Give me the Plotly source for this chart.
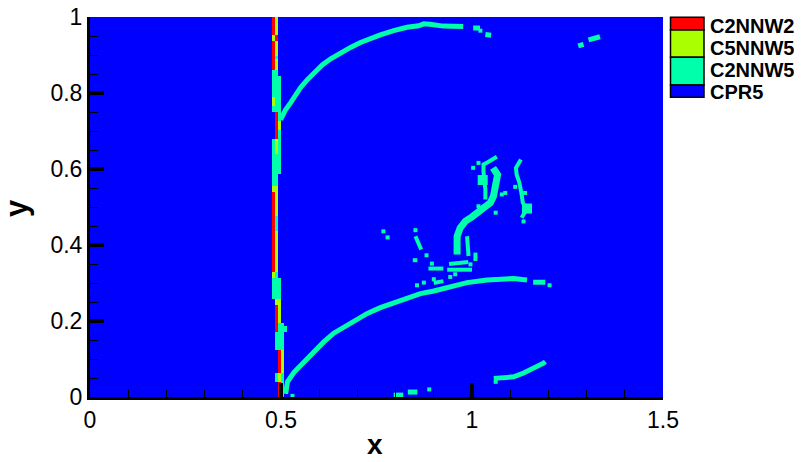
import plotly.graph_objects as go

# ---------------- data ----------------
CATEGORIES = ["CPR5", "C2NNW5", "C5NNW5", "C2NNW2"]          # codes 0..3
COLORS = ["#0000FF", "#00FFAA", "#AAFF00", "#FF0000"]
LEGEND_ORDER = ["C2NNW2", "C5NNW5", "C2NNW5", "CPR5"]

NX, NY = 192, 128           # grid cells (dx = dy = 1/128)

# vertical strip near x~0.48: per column (row-from-top start, end, code)
STRIP_COL_61 = [(0, 6, 3), (6, 8, 2), (8, 18, 3), (18, 27, 1), (27, 30, 2), (30, 32, 1),
                (41, 57, 1), (57, 59, 2), (59, 86, 3), (86, 88, 2), (88, 95, 1)]
STRIP_COL_62 = [(0, 6, 2), (6, 8, 3), (8, 13, 2), (13, 14, 1), (14, 18, 2), (18, 32, 1),
                (32, 41, 3), (41, 46, 2), (46, 57, 1), (57, 67, 2), (67, 72, 1), (72, 86, 2),
                (86, 95, 1), (95, 97, 2), (97, 106, 3), (106, 112, 1), (120, 123, 1)]
STRIP_COL_63 = [(20, 35, 1), (35, 38, 2), (38, 53, 1), (88, 95, 1), (95, 103, 2),
                (103, 112, 1), (112, 120, 3), (120, 123, 2), (123, 128, 3)]
STRIP_COL_64 = [(103, 112, 1), (112, 120, 2), (120, 128, 1)]
STRIP_COL_65 = [(104, 106, 1)]
STRIP = {61: STRIP_COL_61, 62: STRIP_COL_62, 63: STRIP_COL_63, 64: STRIP_COL_64, 65: STRIP_COL_65}

# cyan (C2NNW5) curves
UPPER_ARC_X = [0.499, 0.512, 0.525, 0.538, 0.551, 0.569, 0.586, 0.608, 0.630, 0.656, 0.682,
               0.708, 0.734, 0.760, 0.795, 0.830, 0.860, 0.874, 0.890, 0.925, 0.977,
               None, 1.003, 1.021, None, 1.035, 1.050, None, 1.278, 1.292, None, 1.305, 1.335]
UPPER_ARC_Y = [0.730, 0.756, 0.774, 0.795, 0.814, 0.835, 0.853, 0.874, 0.890, 0.906, 0.920,
               0.933, 0.944, 0.953, 0.964, 0.973, 0.977, 0.982, 0.981, 0.976, 0.975,
               None, 0.971, 0.971, None, 0.954, 0.952, None, 0.924, 0.928, None, 0.940, 0.948]

LOWER_ARC_X = [0.512, 0.517, 0.534, 0.551, 0.569, 0.591, 0.612, 0.638, 0.665, 0.691, 0.726,
               0.760, 0.795, 0.830, 0.865, 0.900, 0.943, 0.987, 1.039, 1.109, 1.144,
               None, 1.160, 1.192, None, 1.057, 1.109, 1.135, 1.161, 1.187, 1.192,
               None, 0.795, 0.820, None, 0.832, 0.857]
LOWER_ARC_Y = [0.008, 0.040, 0.065, 0.082, 0.102, 0.126, 0.145, 0.168, 0.183, 0.200, 0.220,
               0.235, 0.248, 0.260, 0.272, 0.279, 0.291, 0.301, 0.308, 0.312, 0.308,
               None, 0.302, 0.302, None, 0.049, 0.053, 0.063, 0.075, 0.089, 0.093,
               None, 0.005, 0.005, None, 0.013, 0.013]

# S-shaped vortex strand (thick)
VORTEX_MAIN_X = [0.961, 0.961, 0.969, 0.983, 1.000, 1.017, 1.035, 1.048, 1.056, 1.061, 1.065,
                 1.067, 1.061, 1.055]
VORTEX_MAIN_Y = [0.375, 0.423, 0.445, 0.463, 0.474, 0.486, 0.498, 0.511, 0.528, 0.550, 0.572,
                 0.585, 0.594, 0.603]

# thinner vortex strands
VORTEX_THIN_X = [1.035, 1.035, 1.030, 1.030, 1.041, 1.056, 1.065,
                 None, 1.128, 1.115, 1.117, 1.124, 1.130, 1.133, 1.144, 1.130,
                 None, 0.987, 0.991, None, 1.009, 1.009,
                 None, 0.935, 1.000, None, 0.886, 0.925,
                 None, 0.852, 0.867, None, 0.845, 0.857,
                 None, 0.940, 0.990, None, 0.900, 0.925]
VORTEX_THIN_Y = [0.520, 0.546, 0.594, 0.612, 0.618, 0.625, 0.632,
                 None, 0.625, 0.603, 0.585, 0.564, 0.533, 0.511, 0.496, 0.472,
                 None, 0.423, 0.371, None, 0.380, 0.358,
                 None, 0.335, 0.335, None, 0.338, 0.338,
                 None, 0.423, 0.388, None, 0.360, 0.360,
                 None, 0.350, 0.355, None, 0.300, 0.305]

# vortex blobs
BLOB_X = [1.028, 1.144]
BLOB_Y = [0.571, 0.496]

# isolated cyan cells
DOTS_X = [1.022, 1.017, 1.003, 1.017, 1.062, 1.078, 1.087, 1.113, 1.139, 0.996, 0.956,
          0.852, 0.881, 0.895, 0.943, 0.900, 0.856, 0.874, 0.768, 0.779, 0.888, 1.203,
          1.062, 0.530, 1.135]
DOTS_Y = [0.964, 0.616, 0.603, 0.502, 0.485, 0.533, 0.537, 0.553, 0.537, 0.349, 0.323,
          0.439, 0.373, 0.351, 0.316, 0.310, 0.294, 0.301, 0.436, 0.420, 0.020, 0.294,
          0.040, 0.003, 0.462]

# ---------------- figure ----------------
z = [[0] * NX for _ in range(NY)]
for col, segs in STRIP.items():
    for r0, r1, code in segs:
        for r in range(r0, r1):
            z[NY - 1 - r][col] = code

xc = [(i + 0.5) / 128 for i in range(NX)]
yc = [(j + 0.5) / 128 for j in range(NY)]

cs = [[0.0, COLORS[0]], [0.25, COLORS[0]], [0.25, COLORS[1]], [0.5, COLORS[1]],
      [0.5, COLORS[2]], [0.75, COLORS[2]], [0.75, COLORS[3]], [1.0, COLORS[3]]]

CYAN = COLORS[1]
fig = go.Figure()
fig.add_trace(go.Heatmap(x=xc, y=yc, z=z, colorscale=cs, zmin=-0.5, zmax=3.5,
                         showscale=False, hoverinfo="skip", zsmooth=False))
fig.add_trace(go.Scatter(x=UPPER_ARC_X, y=UPPER_ARC_Y, mode="lines",
                         line=dict(color=CYAN, width=5), hoverinfo="skip"))
fig.add_trace(go.Scatter(x=LOWER_ARC_X, y=LOWER_ARC_Y, mode="lines",
                         line=dict(color=CYAN, width=5), hoverinfo="skip"))
fig.add_trace(go.Scatter(x=VORTEX_MAIN_X, y=VORTEX_MAIN_Y, mode="lines",
                         line=dict(color=CYAN, width=7), hoverinfo="skip"))
fig.add_trace(go.Scatter(x=VORTEX_THIN_X, y=VORTEX_THIN_Y, mode="lines",
                         line=dict(color=CYAN, width=4), hoverinfo="skip"))
fig.add_trace(go.Scatter(x=BLOB_X, y=BLOB_Y, mode="markers",
                         marker=dict(symbol="square", size=10, color=CYAN, line=dict(width=0)),
                         hoverinfo="skip"))
fig.add_trace(go.Scatter(x=DOTS_X, y=DOTS_Y, mode="markers",
                         marker=dict(symbol="square", size=4, color=CYAN, line=dict(width=0)),
                         hoverinfo="skip"))

# page has an 8px body margin, so the figure is drawn 8px right/down
OFF = 8
W, H = 802 - OFF, 462 - OFF
PL, PR, PT, PB = 90, 663, 17, 397          # plot area in page pixels
ML, MR, MT, MB = PL - OFF, W - (PR - OFF), PT - OFF, H - (PB - OFF)
PW, PH = W - ML - MR, H - MT - MB


def px(xp):
    return (xp - PL) / PW


def py(yp):
    return (PB - yp) / PH


FONT = "Liberation Sans, Arial, Helvetica, sans-serif"

shapes = []
annotations = []
box_edges = [17.3, 30, 57.3, 85, 97.3]
label_y = [25.7, 47.7, 70, 91.7]
for k, name in enumerate(LEGEND_ORDER):
    col = COLORS[CATEGORIES.index(name)]
    shapes.append(dict(type="rect", xref="paper", yref="paper",
                       x0=px(670.5), x1=px(704), y0=py(box_edges[k]), y1=py(box_edges[k + 1]),
                       fillcolor=col, line=dict(color="black", width=1.5)))
    annotations.append(dict(xref="paper", yref="paper", x=px(708), y=py(label_y[k]),
                            text="<b>%s</b>" % name, showarrow=False, xanchor="left",
                            yanchor="middle", font=dict(family=FONT, size=20, color="black")))

# axis titles
annotations.append(dict(xref="paper", yref="paper", x=px(375), y=py(444), text="<b>x</b>",
                        showarrow=False, xanchor="center", yanchor="middle",
                        font=dict(family=FONT, size=28, color="black")))
annotations.append(dict(xref="paper", yref="paper", x=px(16), y=py(208), text="<b>y</b>",
                        showarrow=False, xanchor="center", yanchor="middle", textangle=-90,
                        font=dict(family=FONT, size=31, color="black")))

fig.update_layout(
    width=W, height=H, margin=dict(l=ML, r=MR, t=MT, b=MB, autoexpand=False),
    paper_bgcolor="white", plot_bgcolor=COLORS[0], showlegend=False,
    shapes=shapes, annotations=annotations,
    font=dict(family=FONT, color="black"),
    xaxis=dict(range=[0, 1.5], tickvals=[0, 0.5, 1, 1.5], ticktext=["0", "0.5", "1", "1.5"],
               ticks="inside", ticklen=14, tickwidth=3.5, tickcolor="black",
               minor=dict(dtick=0.1, tick0=0, ticks="inside", ticklen=8, tickwidth=1, tickcolor="black"),
               showline=True, linewidth=3, linecolor="black", mirror=False, automargin=False,
               showgrid=False, zeroline=False, tickfont=dict(size=23, family=FONT),
               ticklabeloverflow="allow"),
    yaxis=dict(range=[0, 1.0000001], tickvals=[0, 0.2, 0.4, 0.6, 0.8, 1],
               ticktext=["0", "0.2", "0.4", "0.6", "0.8", "1"],
               ticks="inside", ticklen=14, tickwidth=3.5, tickcolor="black",
               minor=dict(dtick=0.05, tick0=0, ticks="inside", ticklen=8, tickwidth=1, tickcolor="black"),
               showline=True, linewidth=3, linecolor="black", mirror=False, automargin=False,
               showgrid=False, zeroline=False, tickfont=dict(size=23, family=FONT),
               ticklabeloverflow="allow"),
)

fig.write_html("out.html", config={"displayModeBar": False})
